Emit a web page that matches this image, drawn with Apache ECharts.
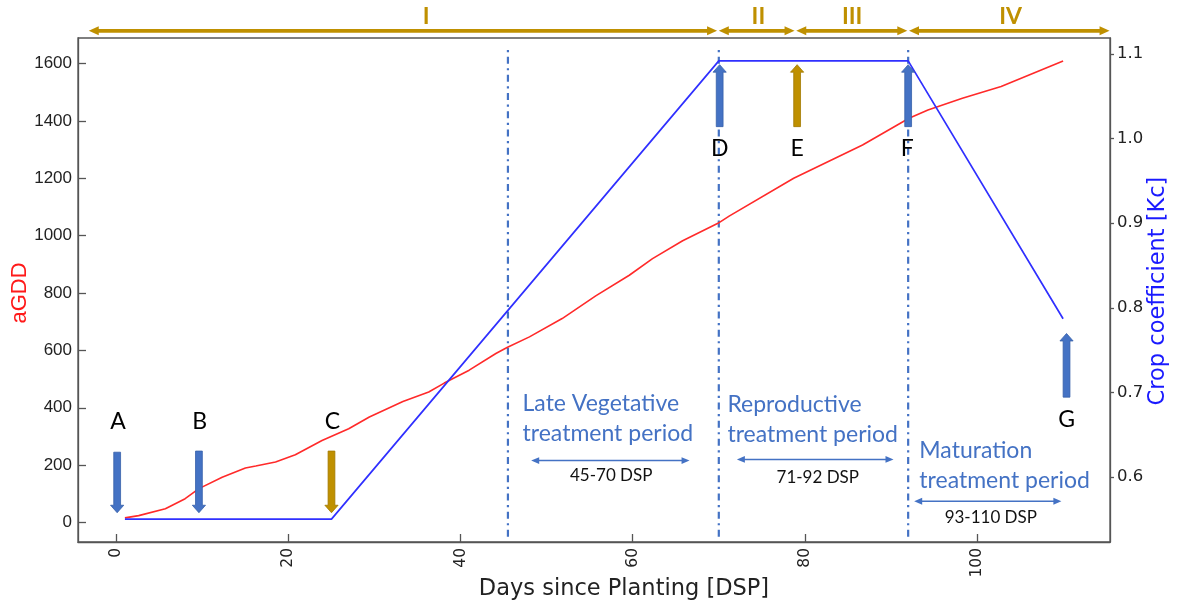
<!DOCTYPE html>
<html>
<head>
<meta charset="utf-8">
<script src="https://cdn.jsdelivr.net/npm/echarts@6/dist/echarts.min.js"></script>
<style>
  html, body { margin: 0; padding: 0; background: #fff; }
  #chart { width: 1178px; height: 607px; }
</style>
</head>
<body>
<div id="chart"></div>
<script>
// Accumulated growing degree days (left axis) by days since planting
const gddDays   = [1, 2.6, 5.7, 8, 9.6, 12.3, 15, 16.2, 18.5, 20.8, 23.9, 27, 29.4, 33.3, 36.3, 38.1, 41, 44.1, 45.4, 48, 51.8, 55.7, 59.6, 62.3, 65.8, 69.9, 71.2, 78.7, 86.7, 92.1, 94.3, 98.3, 102.8, 110];
const gddValues = [16, 24, 48, 83, 118, 158, 190, 197, 211, 236, 286, 327, 368, 422, 455, 486, 531, 589, 610, 647, 711, 790, 862, 920, 982, 1043, 1068, 1200, 1316, 1409, 1438, 1479, 1520, 1609];

// Crop coefficient (right axis)
const kcDays   = [1, 25, 70, 92, 110];
const kcValues = [0.55, 0.55, 1.092, 1.092, 0.787];

// Axis ticks
const dayTicks = [0, 20, 40, 60, 80, 100];
const gddTicks = [0, 200, 400, 600, 800, 1000, 1200, 1400, 1600];
const kcTicks  = [0.6, 0.7, 0.8, 0.9, 1.0, 1.1];

// Treatment period boundaries (days) and vertical extent (aGDD units)
const boundaryDays = [45.5, 70, 92];
const boundarySpan = [-50, 1652];

// Growth stages shown above the plot
const stageNames    = ['I', 'II', 'III', 'IV'];
const stageStart    = [-3.2, 70, 79, 92.1];
const stageEnd      = [69.8, 78.8, 91.9, 115.4];
const stageLabelDay = [36, 74.6, 85.5, 103.9];
const stageLevel    = 1714;
const stageLabelLevel = 1732;

// Event markers A–G: day, tail and tip (aGDD units), colour group
const eventLetters = ['A', 'B', 'C', 'D', 'E', 'F', 'G'];
const eventDay     = [0.1, 9.6, 25, 70.1, 79.1, 92, 110.4];
const eventTail    = [245, 249, 249, 1380, 1380, 1380, 437];
const eventTip     = [34, 34, 34, 1596, 1596, 1596, 659];
const eventGroup   = ['blue', 'blue', 'gold', 'blue', 'gold', 'blue', 'blue'];
const letterDay    = [0.2, 9.7, 25.1, 70.1, 79.1, 91.9, 110.4];
const letterBase   = [321, 321, 321, 1274, 1274, 1274, 328];

// Treatment periods
const treatTitle      = [['Late Vegetative', 'treatment period'], ['Reproductive', 'treatment period'], ['Maturation', 'treatment period']];
const treatTextDay    = [47.2, 71.0, 93.3];
const treatLine1      = [385, 379, 219];
const treatLine2      = [280, 275, 114];
const treatSpanStart  = [48.2, 72.1, 92.7];
const treatSpanEnd    = [66.6, 90.3, 109.8];
const treatSpanLevel  = [216, 220, 74];
const treatRange      = ['45-70 DSP', '71-92 DSP', '93-110 DSP'];
const treatRangeDay   = [57.5, 81.5, 101.6];
const treatRangeBase  = [141, 135, -7];

const GOLD = '#BF9000';
const MARK_BLUE = '#4472C4';
const groupFill = { blue: '#4472C4', gold: '#BF9000' };
const groupEdge = { blue: '#3660AA', gold: '#A27A00' };
const ANNOT_FONT = 'Lato';

function textEl(x, baseline, text, size, family, color, align, weight, k) {
  return {
    type: 'text',
    x: x,
    y: baseline - k * size,
    style: {
      text: text, fill: color, fontSize: size, fontFamily: family,
      fontWeight: weight || 'normal', align: align, verticalAlign: 'middle'
    }
  };
}

function doubleArrow(x0, x1, y, color, lw, hl, hw) {
  return [
    { type: 'line', shape: { x1: x0 + hl * 0.7, y1: y, x2: x1 - hl * 0.7, y2: y }, style: { stroke: color, lineWidth: lw } },
    { type: 'polygon', shape: { points: [[x0, y], [x0 + hl, y - hw], [x0 + hl, y + hw]] }, style: { fill: color } },
    { type: 'polygon', shape: { points: [[x1, y], [x1 - hl, y - hw], [x1 - hl, y + hw]] }, style: { fill: color } }
  ];
}

const chart = echarts.init(document.getElementById('chart'), null, { renderer: 'canvas' });

const option = {
  animation: false,
  backgroundColor: '#fff',
  grid: {
    left: 78, top: 38, right: 68, bottom: 65,
    show: true, borderColor: '#555', borderWidth: 1.3, backgroundColor: 'transparent'
  },
  xAxis: {
    type: 'value', min: -4.45, max: 115.45,
    axisLine: { show: true, onZero: false, lineStyle: { color: '#555', width: 1.3 } },
    axisTick: { show: true, inside: true, length: 8, customValues: dayTicks, lineStyle: { color: '#555', width: 1.3 } },
    axisLabel: { customValues: dayTicks, rotate: 90, margin: 6, fontFamily: 'DejaVu Sans', fontSize: 15.5, color: '#222',
                 formatter: v => String(v) },
    splitLine: { show: false }
  },
  yAxis: [
    {
      type: 'value', min: -68, max: 1689, position: 'left',
      axisLine: { show: true, onZero: false, lineStyle: { color: '#555', width: 1.3 } },
      axisTick: { show: true, inside: true, length: 8, customValues: gddTicks, lineStyle: { color: '#555', width: 1.3 } },
      axisLabel: { customValues: gddTicks, margin: 6, fontFamily: 'Liberation Sans', fontSize: 17, color: '#222',
                   formatter: v => String(v) },
      splitLine: { show: false }
    },
    {
      type: 'value', min: 0.523, max: 1.119, position: 'right',
      axisLine: { show: true, onZero: false, lineStyle: { color: '#555', width: 1.3 } },
      axisTick: { show: true, inside: false, length: 4, customValues: kcTicks, lineStyle: { color: '#555', width: 1.3 } },
      axisLabel: { customValues: kcTicks, margin: 7, fontFamily: 'DejaVu Sans', fontSize: 16.5, color: '#222',
                   formatter: v => v.toFixed(1) },
      splitLine: { show: false }
    }
  ],
  graphic: [
    { type: 'text', x: 624, y: 589, style: { text: 'Days since Planting [DSP]', fontFamily: 'DejaVu Sans', fontSize: 22.5, fill: '#222', align: 'center', verticalAlign: 'middle' } },
    { type: 'text', x: 20, y: 293, rotation: Math.PI / 2, style: { text: 'aGDD', fontFamily: 'Liberation Sans', fontSize: 22, fill: '#FF1A1A', align: 'center', verticalAlign: 'middle' } },
    { type: 'text', x: 1158, y: 291, rotation: Math.PI / 2, style: { text: 'Crop coefficient [Kc]', fontFamily: 'DejaVu Sans', fontSize: 22.5, fill: '#1A1AFF', align: 'center', verticalAlign: 'middle' } }
  ],
  series: [
    {
      name: 'aGDD', type: 'line', yAxisIndex: 0, z: 3,
      data: gddDays.map((d, i) => [d, gddValues[i]]),
      showSymbol: false, symbol: 'none',
      lineStyle: { color: '#FF2A2A', width: 1.6 }
    },
    {
      name: 'Kc', type: 'line', yAxisIndex: 1, z: 4,
      data: kcDays.map((d, i) => [d, kcValues[i]]),
      showSymbol: false, symbol: 'none',
      lineStyle: { color: '#3030FF', width: 1.7 }
    },
    {
      // dash-dot boundaries between treatment periods
      name: 'boundaries', type: 'custom', yAxisIndex: 0, z: 2, silent: true,
      data: boundaryDays.map(d => [d, boundarySpan[0], boundarySpan[1]]),
      encode: { x: 0, y: [1, 2] },
      renderItem: (params, api) => {
        const a = api.coord([api.value(0), api.value(1)]);
        const b = api.coord([api.value(0), api.value(2)]);
        return {
          type: 'line', shape: { x1: a[0], y1: a[1], x2: b[0], y2: b[1] },
          style: { stroke: MARK_BLUE, lineWidth: 2.2, lineDash: [7, 4.5, 2.2, 4.5] }
        };
      }
    },
    {
      // growth-stage arrows and numerals above the plot
      name: 'stages', type: 'custom', yAxisIndex: 0, z: 6, silent: true, clip: false,
      data: stageNames.map((s, i) => [stageStart[i], stageLevel, stageEnd[i]]),
      encode: { x: [0, 2], y: 1 },
      renderItem: (params, api) => {
        const i = params.dataIndex;
        const a = api.coord([stageStart[i], stageLevel]);
        const b = api.coord([stageEnd[i], stageLevel]);
        const lab = api.coord([stageLabelDay[i], stageLabelLevel]);
        const kids = doubleArrow(a[0], b[0], a[1], GOLD, 3.6, 10, 4.5);
        kids.push(textEl(lab[0], lab[1], stageNames[i], 23, ANNOT_FONT, GOLD, 'center', 'bold', 0.387));
        return { type: 'group', children: kids };
      }
    },
    {
      // treatment period captions with their day ranges
      name: 'periods', type: 'custom', yAxisIndex: 0, z: 6, silent: true, clip: false,
      data: treatRange.map((s, i) => [treatSpanStart[i], treatSpanLevel[i], treatSpanEnd[i]]),
      encode: { x: [0, 2], y: 1 },
      renderItem: (params, api) => {
        const i = params.dataIndex;
        const t1 = api.coord([treatTextDay[i], treatLine1[i]]);
        const t2 = api.coord([treatTextDay[i], treatLine2[i]]);
        const s0 = api.coord([treatSpanStart[i], treatSpanLevel[i]]);
        const s1 = api.coord([treatSpanEnd[i], treatSpanLevel[i]]);
        const r = api.coord([treatRangeDay[i], treatRangeBase[i]]);
        const kids = doubleArrow(s0[0], s1[0], s0[1], MARK_BLUE, 1.5, 8, 3.4);
        kids.push(textEl(t1[0], t1[1], treatTitle[i][0], 23, ANNOT_FONT, MARK_BLUE, 'left', 'normal', 0.387));
        kids.push(textEl(t2[0], t2[1], treatTitle[i][1], 23, ANNOT_FONT, MARK_BLUE, 'left', 'normal', 0.387));
        kids.push(textEl(r[0], r[1], treatRange[i], 17, ANNOT_FONT, '#111', 'center', 'normal', 0.387));
        return { type: 'group', children: kids };
      }
    },
    {
      // event arrows A–G with their letters
      name: 'events', type: 'custom', yAxisIndex: 0, z: 8, silent: true, clip: false,
      data: eventDay.map((d, i) => [d, eventTail[i], eventTip[i]]),
      encode: { x: 0, y: [1, 2] },
      renderItem: (params, api) => {
        const i = params.dataIndex;
        const tail = api.coord([api.value(0), api.value(1)]);
        const tip = api.coord([api.value(0), api.value(2)]);
        const cx = tail[0];
        const dir = tip[1] > tail[1] ? 1 : -1;
        const sh = 3.4, hh = 6.6, hl = 7.5;
        const base = tip[1] - dir * hl;
        const lp = api.coord([letterDay[i], letterBase[i]]);
        return {
          type: 'group',
          children: [
            {
              type: 'polygon',
              shape: { points: [[cx - sh, tail[1]], [cx + sh, tail[1]], [cx + sh, base], [cx + hh, base], [cx, tip[1]], [cx - hh, base], [cx - sh, base]] },
              style: { fill: groupFill[eventGroup[i]], stroke: groupEdge[eventGroup[i]], lineWidth: 0.8 }
            },
            textEl(lp[0], lp[1], eventLetters[i], 23, ANNOT_FONT, '#000', 'center', 'normal', 0.387)
          ]
        };
      }
    }
  ]
};

chart.setOption(option);
</script>
</body>
</html>
